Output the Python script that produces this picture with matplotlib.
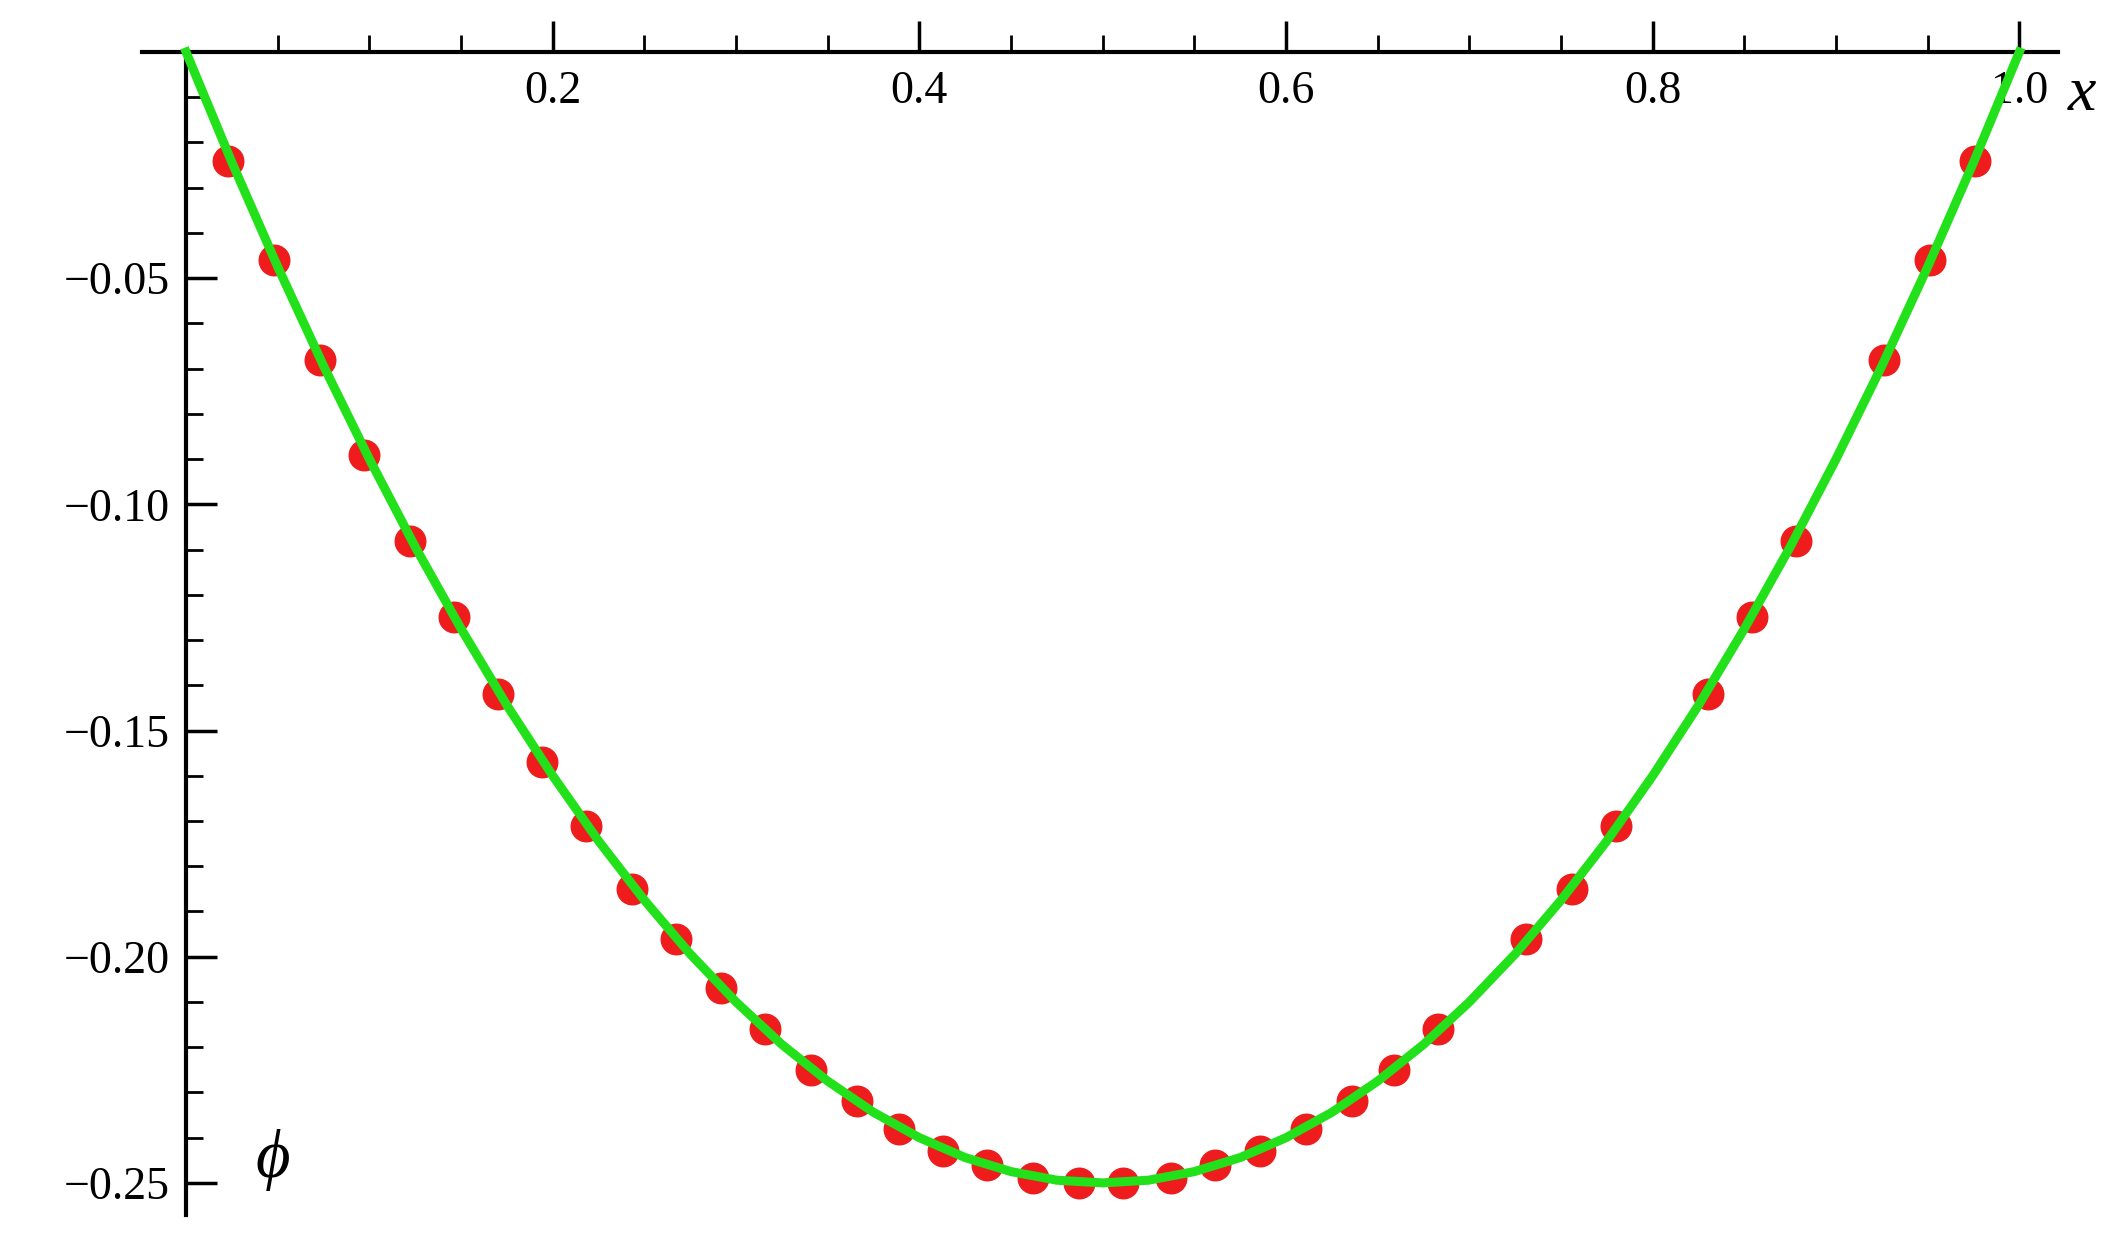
import numpy as np
import matplotlib
matplotlib.use("Agg")
import matplotlib.pyplot as plt
from matplotlib.ticker import FuncFormatter

# curve values
curve_x = [0.0, 0.025, 0.05, 0.075, 0.1, 0.125, 0.15, 0.175, 0.2, 0.225, 0.25, 0.275, 0.3,
           0.325, 0.35, 0.375, 0.4, 0.425, 0.45, 0.475, 0.5, 0.525, 0.55, 0.575, 0.6, 0.625,
           0.65, 0.675, 0.7, 0.725, 0.75, 0.775, 0.8, 0.825, 0.85, 0.875, 0.9, 0.925, 0.95,
           0.975, 1.0]
curve_y = [0.0, -0.0244, -0.0475, -0.0694, -0.09, -0.1094, -0.1275, -0.1444, -0.16, -0.1744,
           -0.1875, -0.1994, -0.21, -0.2194, -0.2275, -0.2344, -0.24, -0.2444, -0.2475, -0.2494,
           -0.25, -0.2494, -0.2475, -0.2444, -0.24, -0.2344, -0.2275, -0.2194, -0.21, -0.1994,
           -0.1875, -0.1744, -0.16, -0.1444, -0.1275, -0.1094, -0.09, -0.0694, -0.0475, -0.0244,
           0.0]

# red sample points
dots_x = [0.023, 0.048, 0.073, 0.097, 0.122, 0.146, 0.17, 0.194, 0.218, 0.243, 0.267, 0.292,
          0.316, 0.341, 0.366, 0.389, 0.413, 0.437, 0.462, 0.487, 0.511, 0.537, 0.561, 0.586,
          0.611, 0.636, 0.659, 0.683, 0.731, 0.756, 0.78, 0.83, 0.854, 0.878, 0.926, 0.951,
          0.976]
dots_y = [-0.024, -0.046, -0.068, -0.089, -0.108, -0.125, -0.142, -0.157, -0.171, -0.185,
          -0.196, -0.207, -0.216, -0.225, -0.232, -0.238, -0.243, -0.246, -0.249, -0.250,
          -0.250, -0.249, -0.246, -0.243, -0.238, -0.232, -0.225, -0.216, -0.196, -0.185,
          -0.171, -0.142, -0.125, -0.108, -0.068, -0.046, -0.024]

x_major = [0.2, 0.4, 0.6, 0.8, 1.0]
x_minor = [0.05, 0.1, 0.15, 0.25, 0.3, 0.35, 0.45, 0.5, 0.55, 0.65, 0.7, 0.75, 0.85, 0.9, 0.95]
y_major = [-0.25, -0.2, -0.15, -0.1, -0.05]
y_minor = [-0.01 * i for i in range(1, 26) if i % 5 != 0]

plt.rcParams['font.family'] = ['Liberation Serif', 'DejaVu Serif']

fig = plt.figure(figsize=(21.22, 12.39), dpi=100)
ax = fig.add_axes([0, 0, 1, 1])
ax.set_xlim(-0.1015, 1.056)
ax.set_ylim(-0.2624, 0.0115)

ax.plot(dots_x, dots_y, 'o', color='#ee1c1c', markersize=22, zorder=2)
ax.plot(curve_x, curve_y, color='#22e01a', lw=6.5, zorder=3)

for s in ['right', 'bottom']:
    ax.spines[s].set_visible(False)
ax.spines['left'].set_position(('data', 0))
ax.spines['top'].set_position(('data', 0))
ax.spines['left'].set_bounds(-0.257, 0)
ax.spines['top'].set_bounds(-0.024, 1.021)
for s in ['left', 'top']:
    ax.spines[s].set_linewidth(3)

ax.xaxis.set_ticks_position('top')
ax.set_xticks(x_major)
ax.set_xticks(x_minor, minor=True)
ax.xaxis.set_major_formatter(FuncFormatter(lambda v, p: f"{v:.1f}"))
ax.tick_params(axis='x', which='major', direction='out', length=22, width=2.5,
               labelsize=33, pad=-66)
ax.tick_params(axis='x', which='minor', direction='out', length=12, width=2)

ax.set_yticks(y_major)
ax.set_yticks(y_minor, minor=True)
ax.yaxis.set_major_formatter(FuncFormatter(lambda v, p: f"\u2212{abs(v):.2f}"))
ax.tick_params(axis='y', which='major', direction='in', length=22, width=2.5,
               labelsize=33, pad=12)
ax.tick_params(axis='y', which='minor', direction='in', length=12, width=2)

ax.text(1.034, -0.0096, 'x', fontsize=46, style='italic', ha='center', va='center')
ax.text(0.047, -0.245, '\u03d5', fontsize=48, style='italic', ha='center', va='center')

fig.savefig('out.png', dpi=100)
